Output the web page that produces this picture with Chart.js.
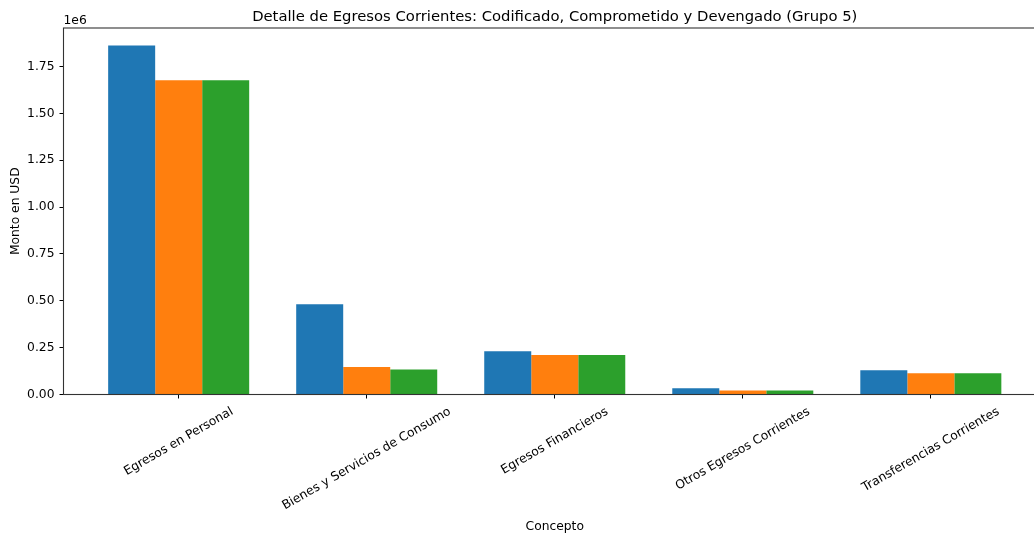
<!DOCTYPE html>
<html>
<head>
<meta charset="utf-8">
<script src="https://cdn.jsdelivr.net/npm/chart.js@4.4.1/dist/chart.umd.min.js"></script>
<style>
    html, body { margin: 0; padding: 0; background: #fff; overflow: hidden; }
    #wrap { width: 1060px; height: 535px; }
</style>
</head>
<body>
<div id="wrap"><canvas id="chart" width="1060" height="535"></canvas></div>
<script>
// Values (USD)
const categories = [
    'Egresos en Personal',
    'Bienes y Servicios de Consumo',
    'Egresos Financieros',
    'Otros Egresos Corrientes',
    'Transferencias Corrientes'
];
const codificado   = [1863000, 482000, 231000, 34000, 130000];
const comprometido = [1677000, 147000, 211000, 21000, 114000];
const devengado    = [1677000, 133000, 211000, 21000, 114000];
const yTicks = [0, 250000, 500000, 750000, 1000000, 1250000, 1500000, 1750000];

const titleText = 'Detalle de Egresos Corrientes: Codificado, Comprometido y Devengado (Grupo 5)';
const FONT = '"DejaVu Sans", sans-serif';
const TICK_SIZE = 12.3;

const toPoints = arr => arr.map((v, i) => ({ x: i, y: v }));
const yMax = Math.max(...codificado, ...comprometido, ...devengado) * 1.05;

// matplotlib-style decorations: spines, title, offset text, axis labels, rotated tick labels
const decorations = {
    id: 'decorations',
    afterDraw(chart) {
        const ctx = chart.ctx;
        const area = chart.chartArea;
        const xs = chart.scales.x;
        ctx.save();

        ctx.strokeStyle = '#333';
        ctx.lineWidth = 1.1;
        ctx.strokeRect(area.left, area.top, area.right - area.left, area.bottom - area.top);

        ctx.fillStyle = '#000';
        ctx.font = `14.8px ${FONT}`;
        ctx.textAlign = 'center';
        ctx.textBaseline = 'alphabetic';
        ctx.fillText(titleText, (area.left + area.right) / 2, 21);

        ctx.font = `${TICK_SIZE}px ${FONT}`;
        ctx.textAlign = 'left';
        ctx.fillText('1e6', area.left, 23.5);

        // x tick labels rotated 30deg, centred on tick
        const ang = 30 * Math.PI / 180;
        const h = TICK_SIZE * 1.16;
        const top = area.bottom + 10;
        ctx.textAlign = 'center';
        ctx.textBaseline = 'middle';
        categories.forEach((label, i) => {
            const w = ctx.measureText(label).width;
            const bh = w * Math.sin(ang) + h * Math.cos(ang);
            ctx.save();
            ctx.translate(xs.getPixelForValue(i), top + bh / 2);
            ctx.rotate(-ang);
            ctx.fillText(label, 0, 0);
            ctx.restore();
        });

        ctx.textBaseline = 'alphabetic';
        ctx.fillText('Concepto', (area.left + area.right) / 2, 530);

        ctx.save();
        ctx.translate(18.5, (area.top + area.bottom) / 2);
        ctx.rotate(-Math.PI / 2);
        ctx.fillText('Monto en USD', 0, 0);
        ctx.restore();

        ctx.restore();
    }
};

new Chart(document.getElementById('chart'), {
    type: 'bar',
    data: {
        datasets: [
            { label: 'Codificado', data: toPoints(codificado), backgroundColor: '#1f77b4' },
            { label: 'Comprometido', data: toPoints(comprometido), backgroundColor: '#ff7f0e' },
            { label: 'Devengado', data: toPoints(devengado), backgroundColor: '#2ca02c' }
        ]
    },
    options: {
        responsive: false,
        animation: false,
        layout: { padding: { top: 28, right: 14, bottom: 0, left: 0 } },
        datasets: {
            bar: { categoryPercentage: 0.75, barPercentage: 1.0, borderWidth: 0 }
        },
        scales: {
            x: {
                type: 'linear',
                offset: false,
                min: -0.6125,
                max: categories.length - 1 + 0.6125,
                afterBuildTicks: scale => {
                    scale.ticks = categories.map((c, i) => ({ value: i }));
                },
                afterFit: scale => { scale.height = 140.5; },
                ticks: { display: false },
                grid: { offset: false, drawOnChartArea: false, drawTicks: true, tickLength: 4, color: '#000' },
                border: { display: false }
            },
            y: {
                min: 0,
                max: yMax,
                afterBuildTicks: scale => {
                    scale.ticks = yTicks.map(v => ({ value: v }));
                },
                afterFit: scale => { scale.width = 63.5; },
                ticks: {
                    color: '#000',
                    padding: 5,
                    font: { family: FONT, size: TICK_SIZE },
                    callback: v => (v / 1e6).toFixed(2)
                },
                grid: { drawOnChartArea: false, drawTicks: true, tickLength: 4, color: '#000' },
                border: { display: false }
            }
        },
        plugins: {
            legend: { display: false },
            tooltip: { enabled: false },
            title: { display: false }
        }
    },
    plugins: [decorations]
});
</script>
</body>
</html>
